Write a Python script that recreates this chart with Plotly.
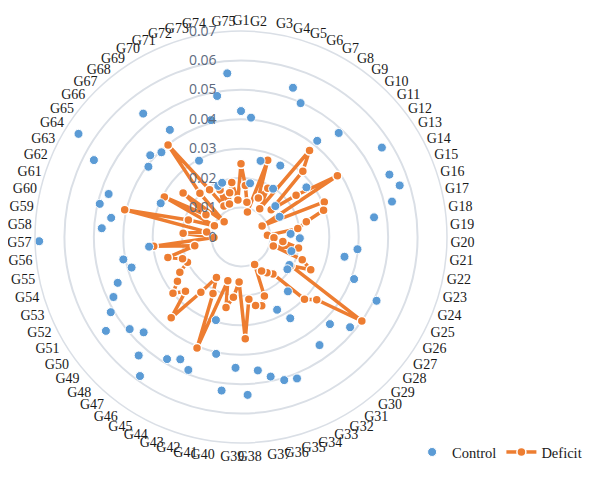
import plotly.graph_objects as go

categories = [f"G{i}" for i in range(1, 76)]

control = [
    0.0428, 0.0407, 0.0185, 0.0267, 0.0537, 0.0498, 0.0277, 0.0197, 0.0417, 0.0485,
    0.0157, 0.0279, 0.0567, 0.0148, 0.0547, 0.0567, 0.0527, 0.0457, 0.0169, 0.0200,
    0.0398, 0.0358, 0.0178, 0.0410, 0.0509, 0.0190, 0.0192, 0.0481, 0.0423, 0.0244,
    0.0454, 0.0323, 0.0276, 0.0517, 0.0508, 0.0485, 0.0457, 0.0537, 0.0445, 0.0526,
    0.0406, 0.0295, 0.0486, 0.0464, 0.0485, 0.0584, 0.0532, 0.0463, 0.0491, 0.0559,
    0.0511, 0.0479, 0.0447, 0.0386, 0.0407, 0.0314, 0.0686, 0.0474, 0.0446, 0.0493,
    0.0473, 0.0296, 0.0564, 0.0654, 0.0395, 0.0415, 0.0395, 0.0535, 0.0437, 0.0296,
    0.0190, 0.0195, 0.0410, 0.0486, 0.0558,
]

deficit = [
    0.0249, 0.0176, 0.0120, 0.0088, 0.0276, 0.0145, 0.0189, 0.0115, 0.0375, 0.0307,
    0.0138, 0.0235, 0.0388, 0.0081, 0.0307, 0.0295, 0.0228, 0.0195, 0.0090, 0.0112,
    0.0143, 0.0199, 0.0114, 0.0222, 0.0262, 0.0195, 0.0500, 0.0334, 0.0302, 0.0166,
    0.0150, 0.0135, 0.0104, 0.0216, 0.0244, 0.0238, 0.0213, 0.0346, 0.0153, 0.0206,
    0.0245, 0.0155, 0.0406, 0.0214, 0.0161, 0.0232, 0.0363, 0.0264, 0.0300, 0.0263,
    0.0240, 0.0201, 0.0212, 0.0258, 0.0160, 0.0298, 0.0092, 0.0197, 0.0118, 0.0406,
    0.0188, 0.0098, 0.0294, 0.0141, 0.0247, 0.0077, 0.0204, 0.0399, 0.0193, 0.0120,
    0.0175, 0.0119, 0.0155, 0.0188, 0.0126,
]

radial_ticks = [0, 0.01, 0.02, 0.03, 0.04, 0.05, 0.06, 0.07]
radial_labels = ["0", "0.01", "0.02", "0.03", "0.04", "0.05", "0.06", "0.07"]

BLUE = "#5b9bd5"
ORANGE = "#ed7d31"
GRID = "#dadfe6"
PAD = "\u00a0" * 6

fig = go.Figure()

fig.add_trace(go.Scatterpolar(
    r=deficit + [deficit[0]],
    theta=categories + [categories[0]],
    mode="lines+markers",
    name="Deficit",
    legendrank=2,
    line=dict(color=ORANGE, width=3.5),
    marker=dict(color=ORANGE, size=9, line=dict(color="white", width=1.5)),
))

fig.add_trace(go.Scatterpolar(
    r=control,
    theta=categories,
    mode="markers",
    name="Control",
    legendrank=1,
    marker=dict(color=BLUE, size=9, line=dict(color="white", width=1)),
))

W, H = 596, 496
cx, cy, R = 233, 229, 206

fig.update_layout(
    width=W, height=H,
    margin=dict(l=0, r=0, t=0, b=0),
    paper_bgcolor="white",
    plot_bgcolor="white",
    showlegend=True,
    legend=dict(
        orientation="h",
        x=0.678, y=0.137, xanchor="left", yanchor="top",
        font=dict(family="Liberation Serif", size=14.5, color="#1a1a1a"),
        bgcolor="rgba(0,0,0,0)",
        itemwidth=30,
    ),
    polar=dict(
        domain=dict(x=[(cx - R) / W, (cx + R) / W], y=[(H - cy - R) / H, (H - cy + R) / H]),
        bgcolor="white",
        gridshape="circular",
        radialaxis=dict(
            range=[0, 0.07],
            tickvals=radial_ticks,
            ticktext=[t + PAD for t in radial_labels],
            angle=90,
            tickangle=90,
            side="counterclockwise",
            showline=False,
            ticks="",
            gridcolor=GRID,
            gridwidth=1.5,
            tickfont=dict(family="Open Sans", size=14, color="#5d6a7e"),
        ),
        angularaxis=dict(
            direction="clockwise",
            rotation=90,
            type="category",
            categoryarray=categories,
            showgrid=False,
            showline=True,
            linecolor=GRID,
            linewidth=1.5,
            ticks="",
            tickfont=dict(family="Liberation Serif", size=14, color="#1a1a1a"),
        ),
    ),
)

fig.write_html("out.html")
